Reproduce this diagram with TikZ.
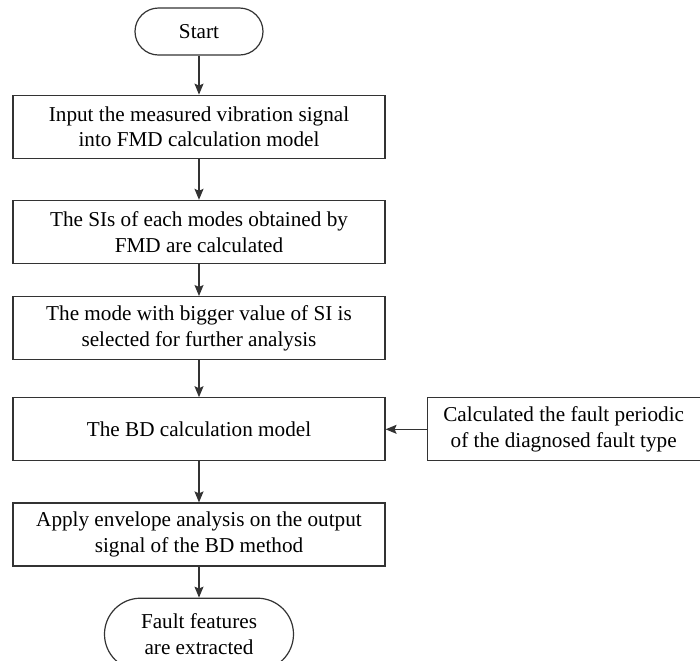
\documentclass[tikz,border=0pt]{standalone}
\usepackage{fontspec}
\setmainfont{Liberation Serif}
\usetikzlibrary{matrix,shapes,arrows.meta,positioning}

\tikzset{
  block/.style={draw=black!80, line width=0.6pt, minimum width=186pt, minimum height=31.5pt,
    align=center, anchor=center, inner sep=2pt, font=\fontsize{10.6}{12.8}\selectfont},
  terminal/.style={block, rounded corners=11.75pt, minimum width=64pt, minimum height=23.5pt},
  line/.style={draw=black!80, line width=0.6pt, -{Stealth[length=5.5pt,width=4.5pt,inset=1pt]}}
}

\begin{document}
\begin{tikzpicture}
      \useasboundingbox[fill=white] (0,0) rectangle (350pt,-330pt);
      \matrix (mat) [column sep=20.5pt, row sep=16pt, inner sep=0pt, anchor=north west] at (6pt,-3.5pt) {
        \node[terminal] (ST) {Start}; \\[3.5pt]
        \node[block] (IN) {Input the measured vibration signal\\into FMD calculation model}; \\[4.5pt]
        \node[block] (SI) {The SIs of each modes obtained by\\FMD are calculated}; \\
        \node[block] (MS) {The mode with bigger value of SI is\\selected for further analysis}; \\[2.5pt]
        \node[block] (BD) {The BD calculation model}; &
        \node[block, minimum width=136.5pt] (FP) {Calculated the fault periodic\\of the diagnosed fault type}; \\[4.5pt]
        \node[block] (EA) {Apply envelope analysis on the output\\signal of the BD method}; \\[-0.5pt]
        \node[terminal, minimum width=94.5pt, minimum height=36pt, rounded corners=18pt] (FF) {Fault features\\are extracted}; \\
      };
      \draw[line] (ST) -- (IN);
      \draw[line] (IN) -- (SI);
      \draw[line] (SI) -- (MS);
      \draw[line] (MS) -- (BD);
      \draw[line] (FP) -- (BD);
      \draw[line] (BD) -- (EA);
      \draw[line] (EA) -- (FF);
    \end{tikzpicture}
\end{document}
